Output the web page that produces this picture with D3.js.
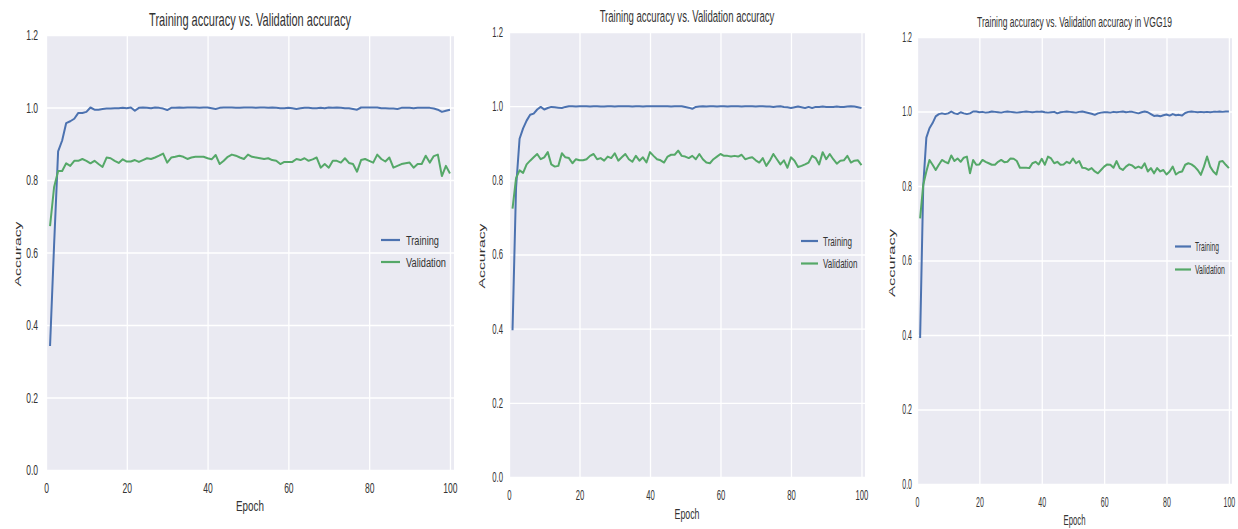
<!DOCTYPE html>
<html>
<head>
<meta charset="utf-8">
<script src="https://cdn.jsdelivr.net/npm/d3@7"></script>
<style>
  html, body { margin: 0; padding: 0; background: #ffffff; }
  svg { display: block; }
  text { font-family: "Liberation Sans", Arial, sans-serif; fill: #333333; }
</style>
</head>
<body>
<svg id="chart" width="1238" height="529"></svg>
<script>
// ---- data -------------------------------------------------------------
const epochs = d3.range(1, 101);

const xTicks = [0, 20, 40, 60, 80, 100];
const yTicks = [0.0, 0.2, 0.4, 0.6, 0.8, 1.0, 1.2];
const yTickLabels = ["0.0", "0.2", "0.4", "0.6", "0.8", "1.0", "1.2"];

const titles = [
  "Training accuracy vs. Validation accuracy",
  "Training accuracy vs. Validation accuracy",
  "Training accuracy vs. Validation accuracy in VGG19"
];
const seriesNames = ["Training", "Validation"];
const xLabel = "Epoch";
const yLabel = "Accuracy";

const trainAcc1 = [0.342, 0.620, 0.879, 0.909, 0.957, 0.962, 0.969, 0.985, 0.985, 0.988,
  1.000, 0.994, 0.994, 0.996, 0.997, 0.997, 0.998, 0.998, 0.999, 0.998,
  1.000, 0.991, 0.999, 1.000, 0.999, 0.998, 1.000, 0.999, 0.997, 0.993,
  0.999, 0.999, 1.000, 0.999, 1.000, 1.000, 1.000, 0.999, 1.000, 1.000,
  0.998, 0.996, 0.999, 1.000, 1.000, 1.000, 0.999, 0.999, 1.000, 1.000,
  1.000, 0.999, 1.000, 1.000, 0.999, 1.000, 0.999, 0.998, 0.998, 0.999,
  0.998, 0.996, 0.998, 0.999, 0.999, 0.998, 0.998, 0.999, 0.998, 1.000,
  0.999, 1.000, 0.999, 0.998, 0.998, 0.996, 0.994, 1.000, 1.000, 1.000,
  1.000, 1.000, 0.998, 0.998, 0.997, 0.997, 0.996, 0.999, 0.999, 0.999,
  0.998, 0.999, 0.999, 0.999, 0.999, 0.997, 0.994, 0.988, 0.991, 0.994];

const valAcc1 = [0.673, 0.780, 0.825, 0.825, 0.846, 0.839, 0.853, 0.853, 0.858, 0.853,
  0.846, 0.853, 0.844, 0.836, 0.862, 0.860, 0.853, 0.847, 0.857, 0.851,
  0.851, 0.855, 0.850, 0.855, 0.860, 0.858, 0.862, 0.867, 0.873, 0.848,
  0.862, 0.864, 0.867, 0.864, 0.858, 0.862, 0.864, 0.864, 0.864, 0.860,
  0.857, 0.869, 0.844, 0.853, 0.864, 0.870, 0.867, 0.862, 0.858, 0.870,
  0.864, 0.862, 0.860, 0.858, 0.860, 0.855, 0.853, 0.844, 0.850, 0.850,
  0.850, 0.858, 0.855, 0.860, 0.853, 0.857, 0.862, 0.834, 0.844, 0.834,
  0.853, 0.853, 0.848, 0.860, 0.847, 0.844, 0.823, 0.855, 0.858, 0.853,
  0.848, 0.870, 0.858, 0.851, 0.862, 0.834, 0.839, 0.844, 0.846, 0.848,
  0.834, 0.844, 0.844, 0.867, 0.848, 0.866, 0.870, 0.811, 0.839, 0.818];

const trainAcc2 = [0.396, 0.780, 0.912, 0.940, 0.961, 0.977, 0.980, 0.991, 0.998, 0.991,
  0.995, 0.998, 0.997, 0.996, 0.995, 0.998, 1.000, 1.000, 0.999, 1.000,
  1.000, 1.000, 0.999, 1.000, 1.000, 0.999, 0.999, 1.000, 1.000, 0.999,
  1.000, 1.000, 1.000, 1.000, 0.999, 1.000, 1.000, 0.999, 1.000, 1.000,
  1.000, 1.000, 1.000, 1.000, 1.000, 0.999, 1.000, 1.000, 1.000, 0.998,
  0.996, 0.993, 0.998, 0.999, 1.000, 0.999, 1.000, 1.000, 0.999, 1.000,
  1.000, 0.999, 1.000, 1.000, 1.000, 0.999, 1.000, 1.000, 1.000, 0.999,
  1.000, 1.000, 0.999, 0.999, 0.998, 0.999, 1.000, 0.998, 0.997, 0.995,
  0.997, 0.999, 0.997, 0.995, 0.998, 0.995, 0.998, 0.998, 0.999, 0.998,
  0.998, 0.998, 0.999, 0.998, 0.998, 0.999, 1.000, 0.999, 0.997, 0.995];

const valAcc2 = [0.724, 0.806, 0.827, 0.820, 0.843, 0.853, 0.862, 0.871, 0.857, 0.862,
  0.876, 0.843, 0.837, 0.839, 0.873, 0.862, 0.860, 0.846, 0.857, 0.854,
  0.854, 0.857, 0.866, 0.871, 0.857, 0.860, 0.853, 0.864, 0.860, 0.873,
  0.853, 0.862, 0.871, 0.857, 0.850, 0.866, 0.853, 0.862, 0.848, 0.876,
  0.866, 0.857, 0.854, 0.848, 0.864, 0.869, 0.869, 0.880, 0.866, 0.864,
  0.860, 0.866, 0.857, 0.871, 0.857, 0.848, 0.846, 0.857, 0.864, 0.871,
  0.866, 0.866, 0.864, 0.866, 0.864, 0.869, 0.857, 0.860, 0.862, 0.854,
  0.848, 0.860, 0.839, 0.853, 0.871, 0.857, 0.843, 0.854, 0.834, 0.862,
  0.853, 0.836, 0.839, 0.843, 0.848, 0.866, 0.860, 0.843, 0.876, 0.857,
  0.871, 0.857, 0.845, 0.853, 0.854, 0.866, 0.848, 0.853, 0.854, 0.841];

const trainAcc3 = [0.392, 0.800, 0.930, 0.955, 0.969, 0.987, 0.993, 0.995, 0.993, 0.995,
  1.000, 0.995, 0.993, 0.998, 0.995, 0.993, 0.995, 1.000, 1.000, 0.998,
  0.999, 0.997, 0.998, 1.000, 0.999, 0.998, 0.997, 0.999, 1.000, 0.999,
  0.998, 0.997, 0.998, 0.999, 1.000, 0.999, 0.998, 0.999, 0.999, 1.000,
  0.998, 0.997, 0.998, 0.999, 0.995, 0.998, 0.999, 1.000, 0.999, 0.998,
  0.997, 0.999, 1.000, 0.998, 0.996, 0.994, 0.991, 0.995, 0.997, 0.998,
  0.998, 0.997, 0.999, 0.998, 0.999, 1.000, 0.998, 0.999, 0.999, 0.997,
  0.995, 0.998, 1.000, 0.998, 0.993, 0.988, 0.989, 0.987, 0.990, 0.992,
  0.989, 0.993, 0.990, 0.991, 0.989, 0.996, 0.999, 1.000, 0.999, 0.998,
  0.999, 0.998, 0.999, 0.998, 0.999, 0.999, 1.000, 0.999, 1.000, 1.000];

const valAcc3 = [0.713, 0.803, 0.839, 0.870, 0.857, 0.843, 0.857, 0.870, 0.865, 0.861,
  0.882, 0.867, 0.874, 0.865, 0.876, 0.879, 0.834, 0.870, 0.857, 0.858,
  0.870, 0.865, 0.861, 0.857, 0.857, 0.865, 0.870, 0.864, 0.865, 0.874,
  0.873, 0.867, 0.849, 0.849, 0.849, 0.848, 0.861, 0.865, 0.858, 0.873,
  0.857, 0.879, 0.874, 0.861, 0.865, 0.857, 0.858, 0.865, 0.861, 0.874,
  0.861, 0.867, 0.849, 0.848, 0.843, 0.848, 0.839, 0.834, 0.843, 0.852,
  0.858, 0.857, 0.849, 0.867, 0.848, 0.843, 0.852, 0.858, 0.855, 0.848,
  0.852, 0.848, 0.861, 0.839, 0.848, 0.834, 0.848, 0.839, 0.843, 0.831,
  0.839, 0.852, 0.831, 0.837, 0.839, 0.857, 0.861, 0.858, 0.852, 0.843,
  0.830, 0.852, 0.879, 0.852, 0.839, 0.831, 0.865, 0.867, 0.857, 0.848];

// ---- layout of the three panels ----------------------------------------
const colors = { bg: "#EAEAF2", grid: "#ffffff", train: "#4C72B0", val: "#55A868" };

const panels = [
  { title: titles[0], train: trainAcc1, val: valAcc1,
    left: 46, right: 454, top: 35, bottom: 470,
    titleY: 26, titleSize: 18, titleW: 202,
    tickSize: 15, tickK: 0.57, yGap: 8, xTickY: 493,
    epochY: 511, epochSize: 15, epochW: 28,
    accX: 18, accY: 254, accSize: 15.5, accW: 65,
    legX1: 381, legX2: 400, legY1: 240, legY2: 262, legTextX: 406, legSize: 13.5, legW: [33, 40] },
  { title: titles[1], train: trainAcc2, val: valAcc2,
    left: 509, right: 865, top: 32, bottom: 477,
    titleY: 22, titleSize: 16.5, titleW: 175,
    tickSize: 14, tickK: 0.55, yGap: 6, xTickY: 500,
    epochY: 519, epochSize: 15, epochW: 25,
    accX: 482, accY: 256, accSize: 15.5, accW: 65,
    legX1: 801, legX2: 818, legY1: 241, legY2: 263.5, legTextX: 823, legSize: 13, legW: [29, 34.5] },
  { title: titles[2], train: trainAcc3, val: valAcc3,
    left: 917, right: 1232, top: 37, bottom: 484,
    titleY: 27, titleSize: 15.4, titleW: 195,
    tickSize: 14, tickK: 0.5, yGap: 5, xTickY: 507,
    epochY: 525, epochSize: 15, epochW: 22,
    accX: 892, accY: 263, accSize: 16, accW: 68,
    legX1: 1175, legX2: 1191, legY1: 246.5, legY2: 269.5, legTextX: 1195, legSize: 13, legW: [24, 30] }
];

const svg = d3.select("#chart");

// text drawn at its natural size, then squeezed horizontally to a given width
function fitText(parent, str, x, y, size, width, anchor) {
  const holder = parent.append("g");
  const t = holder.append("text")
    .attr("font-size", size)
    .attr("text-anchor", anchor || "start")
    .text(str);
  const natural = t.node().getComputedTextLength();
  const k = width / natural;
  holder.attr("transform", `translate(${x},${y}) scale(${k},1)`);
  return t;
}

panels.forEach(p => {
  const w = p.right - p.left, h = p.bottom - p.top;
  const x = d3.scaleLinear().domain([0, 101]).range([0, w]);
  const y = d3.scaleLinear().domain([0, 1.2]).range([h, 0]);

  const g = svg.append("g").attr("transform", `translate(${p.left},${p.top})`);

  g.append("rect").attr("width", w).attr("height", h).attr("fill", colors.bg);

  // grid
  const gx = g.append("g").attr("transform", `translate(0,${h})`)
    .call(d3.axisBottom(x).tickValues(xTicks).tickSize(-h).tickFormat(""));
  const gy = g.append("g")
    .call(d3.axisLeft(y).tickValues(yTicks).tickSize(-w).tickFormat(""));
  [gx, gy].forEach(a => {
    a.select(".domain").remove();
    a.selectAll("line").attr("stroke", colors.grid).attr("stroke-width", 1.3);
  });

  // tick labels
  const lx = g.append("g").attr("transform", `translate(0,${h})`)
    .call(d3.axisBottom(x).tickValues(xTicks).tickSize(0).tickFormat(d3.format("d")));
  lx.select(".domain").remove();
  lx.selectAll("text")
    .attr("font-size", p.tickSize)
    .attr("fill", "#333")
    .attr("y", p.xTickY - p.bottom).attr("dy", 0)
    .attr("transform", `scale(${p.tickK},1)`);

  const ly = g.append("g")
    .call(d3.axisLeft(y).tickValues(yTicks).tickSize(0)
      .tickFormat((d, i) => yTickLabels[i]));
  ly.select(".domain").remove();
  ly.selectAll("text")
    .attr("font-size", p.tickSize)
    .attr("fill", "#333")
    .attr("x", -p.yGap / p.tickK)
    .attr("transform", `scale(${p.tickK},1)`);
  [lx, ly].forEach(a => a.attr("font-family", null));

  // lines
  const line = d3.line().x((d, i) => x(epochs[i])).y(d => y(d));
  g.append("path").datum(p.train)
    .attr("fill", "none").attr("stroke", colors.train)
    .attr("stroke-width", 2).attr("stroke-linejoin", "round")
    .attr("d", line);
  g.append("path").datum(p.val)
    .attr("fill", "none").attr("stroke", colors.val)
    .attr("stroke-width", 2).attr("stroke-linejoin", "round")
    .attr("d", line);

  // title and axis labels
  fitText(svg, p.title, (p.left + p.right) / 2, p.titleY, p.titleSize, p.titleW, "middle");
  fitText(svg, xLabel, (p.left + p.right) / 2, p.epochY, p.epochSize, p.epochW, "middle");
  const acc = svg.append("g")
    .attr("transform", `translate(${p.accX},${p.accY}) scale(0.6,1) rotate(-90)`);
  fitText(acc, yLabel, 0, 0, p.accSize, p.accW, "middle")
    .attr("dominant-baseline", "central");

  // legend
  [p.legY1, p.legY2].forEach((ly2, i) => {
    svg.append("line")
      .attr("x1", p.legX1).attr("x2", p.legX2)
      .attr("y1", ly2).attr("y2", ly2)
      .attr("stroke", i === 0 ? colors.train : colors.val)
      .attr("stroke-width", 2.2);
    fitText(svg, seriesNames[i], p.legTextX, ly2, p.legSize, p.legW[i], "start")
      .attr("dominant-baseline", "central");
  });
});
</script>
</body>
</html>
